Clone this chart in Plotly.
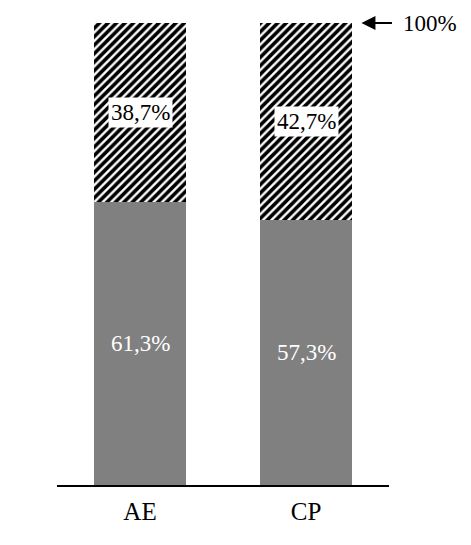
import plotly.graph_objects as go

categories = ["AE", "CP"]
bottom_values = [61.3, 57.3]
top_values = [38.7, 42.7]
bottom_labels = ["61,3%", "57,3%"]
top_labels = ["38,7%", "42,7%"]
total_label = "100%"
total_value = 100

FONT = "Liberation Serif"

fig = go.Figure()
fig.add_trace(go.Bar(
    x=categories, y=bottom_values, width=0.557,
    marker=dict(color="#808080", line=dict(width=0)),
    hoverinfo="skip", showlegend=False,
))
fig.add_trace(go.Bar(
    x=categories, y=top_values, width=0.557,
    marker=dict(color="white", line=dict(width=0),
                pattern=dict(shape="/", fgcolor="black", bgcolor="white",
                             size=6, solidity=0.6, fillmode="replace")),
    hoverinfo="skip", showlegend=False,
))

annotations = []
for c, b, t, bl, tl in zip(categories, bottom_values, top_values, bottom_labels, top_labels):
    annotations.append(dict(x=c, y=b / 2, text=bl, showarrow=False,
                            font=dict(family=FONT, size=23, color="white")))
    annotations.append(dict(x=c, y=b + t / 2, text=tl, showarrow=False,
                            bgcolor="white", borderpad=2,
                            font=dict(family=FONT, size=23, color="black")))

annotations.append(dict(
    x=1.334, y=total_value, xref="x", yref="y",
    text=total_label, showarrow=True, ax=69, ay=0,
    arrowhead=2, arrowsize=1.4, arrowwidth=2, arrowcolor="black",
    startstandoff=10, standoff=0, xanchor="center",
    font=dict(family=FONT, size=23, color="black"),
))

fig.update_layout(
    barmode="stack",
    width=455, height=529,
    margin=dict(l=49, r=74, t=15, b=45),
    plot_bgcolor="white", paper_bgcolor="white",
    annotations=annotations,
    xaxis=dict(range=[-0.5, 1.5], showline=True, linecolor="black", linewidth=1.5,
               ticks="", showgrid=False, zeroline=False, ticklabelstandoff=3,
               tickfont=dict(family=FONT, size=25, color="black")),
    yaxis=dict(range=[0, 100], visible=False, showgrid=False, zeroline=False),
)

fig.write_html("out.html")
